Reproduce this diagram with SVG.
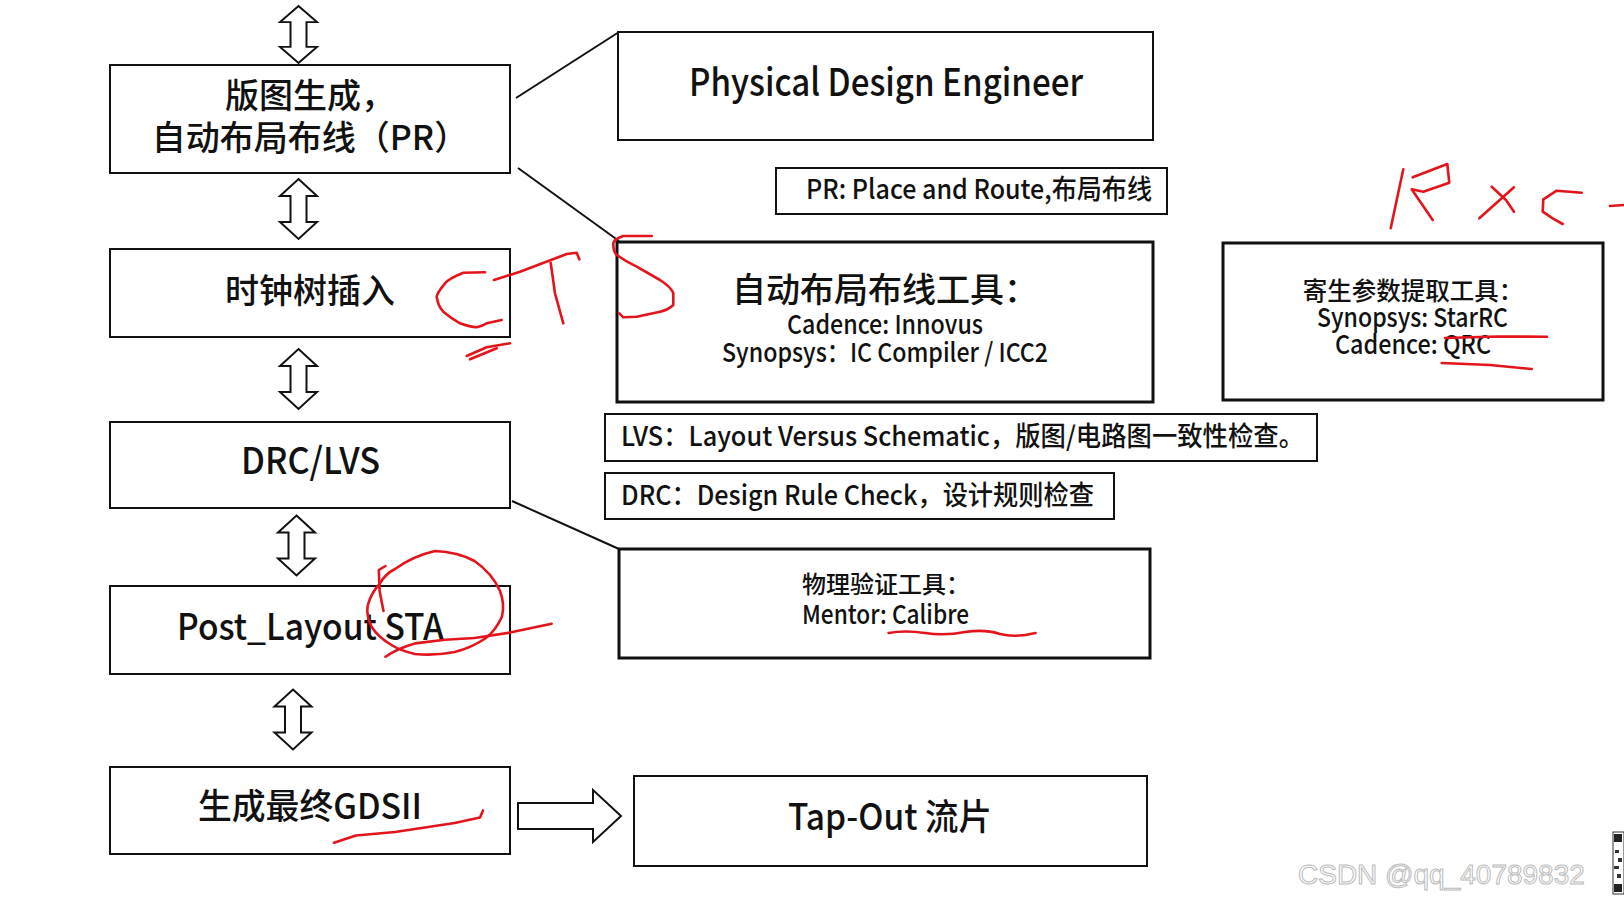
<svg xmlns="http://www.w3.org/2000/svg" xmlns:xlink="http://www.w3.org/1999/xlink" width="1624" height="903" viewBox="0 0 1624 903">
<defs>
<style>
.box{fill:#fff;stroke:#111;stroke-width:2}
.thick{stroke-width:3}
.t{font-family:"Noto Sans CJK SC","Noto Sans",sans-serif;fill:#111;font-weight:500}
.m{text-anchor:middle}
.conn{stroke:#111;stroke-width:2;fill:none}
.blk{fill:#fff;stroke:#111;stroke-width:2;stroke-linejoin:miter}
.red{fill:none;stroke:#e3141c;stroke-width:2.6;stroke-linecap:round;stroke-linejoin:round}
.wm{font-family:"Liberation Sans",Arial,sans-serif;font-size:28px;fill:#fff;stroke:#bbb;stroke-width:1}
</style>
<path id="dbl" d="M0,-30 L18.5,-13 L8,-13 L8,13 L18.5,13 L0,30 L-18.5,13 L-8,13 L-8,-13 L-18.5,-13 Z"/>
</defs>
<rect x="0" y="0" width="1624" height="903" fill="#fff"/>

<g id="connectors">
<line class="conn" x1="516" y1="98" x2="619" y2="32"/>
<line class="conn" x1="518" y1="168" x2="619" y2="241"/>
<line class="conn" x1="512" y1="501" x2="619" y2="549"/>
<use href="#dbl" class="blk" transform="translate(298.5,34.5) scale(1,0.95)"/>
<use href="#dbl" class="blk" transform="translate(298.5,209)"/>
<use href="#dbl" class="blk" transform="translate(298.5,379)"/>
<use href="#dbl" class="blk" transform="translate(296.5,545.5)"/>
<use href="#dbl" class="blk" transform="translate(293,719.5)"/>
<path class="blk" d="M518,803 L593,803 L593,790 L621,816 L593,842 L593,829 L518,829 Z"/>
</g>

<g id="n-pr">
<rect class="box" x="110" y="65" width="400" height="108"/>
<text class="t m" x="310" y="108" font-size="34">版图生成，</text>
<text class="t m" x="310" y="150" font-size="34">自动布局布线（PR）</text>
</g>
<g id="n-cts">
<rect class="box" x="110" y="249" width="400" height="88"/>
<text class="t m" x="310" y="303" font-size="34">时钟树插入</text>
</g>
<g id="n-drclvs">
<rect class="box" x="110" y="422" width="400" height="86"/>
<text class="t" x="241" y="474" font-size="37" textLength="139" lengthAdjust="spacingAndGlyphs">DRC/LVS</text>
</g>
<g id="n-sta">
<rect class="box" x="110" y="586" width="400" height="88"/>
<text class="t" x="177" y="640" font-size="36" textLength="267" lengthAdjust="spacingAndGlyphs">Post_Layout STA</text>
</g>
<g id="n-gds">
<rect class="box" x="110" y="767" width="400" height="87"/>
<text class="t" x="198" y="819" font-size="35" textLength="224" lengthAdjust="spacingAndGlyphs">生成最终GDSII</text>
</g>

<g id="n-pde">
<rect class="box" x="618" y="32" width="535" height="108"/>
<text class="t" x="689" y="96" font-size="38" textLength="394" lengthAdjust="spacingAndGlyphs">Physical Design Engineer</text>
</g>
<g id="n-prnote">
<rect class="box" x="776" y="168" width="391" height="46"/>
<text class="t" x="806" y="199" font-size="27" textLength="346" lengthAdjust="spacingAndGlyphs">PR: Place and Route,布局布线</text>
</g>
<g id="n-prtool">
<rect class="box thick" x="617" y="242" width="536" height="160"/>
<text class="t m" x="885" y="302" font-size="34">自动布局布线工具：</text>
<text class="t" x="787" y="334" font-size="26" textLength="196" lengthAdjust="spacingAndGlyphs">Cadence: Innovus</text>
<text class="t" x="722" y="362" font-size="26" textLength="326" lengthAdjust="spacingAndGlyphs">Synopsys：IC Compiler / ICC2</text>
</g>
<g id="n-rc">
<rect class="box thick" x="1223" y="243" width="380" height="157"/>
<text class="t m" x="1413" y="300" font-size="24.5" font-weight="700">寄生参数提取工具：</text>
<text class="t" x="1317" y="327" font-size="26" textLength="191" lengthAdjust="spacingAndGlyphs">Synopsys: StarRC</text>
<text class="t" x="1335" y="354" font-size="26" textLength="156" lengthAdjust="spacingAndGlyphs">Cadence: QRC</text>
</g>
<g id="n-lvs">
<rect class="box" x="605" y="414" width="712" height="47"/>
<text class="t" x="621" y="446" font-size="27" textLength="683" lengthAdjust="spacingAndGlyphs">LVS：Layout Versus Schematic，版图/电路图一致性检查。</text>
</g>
<g id="n-drcnote">
<rect class="box" x="605" y="473" width="509" height="46"/>
<text class="t" x="621" y="505" font-size="27" textLength="473" lengthAdjust="spacingAndGlyphs">DRC：Design Rule Check，设计规则检查</text>
</g>
<g id="n-pv">
<rect class="box thick" x="619" y="549" width="531" height="109"/>
<text class="t" x="802" y="593" font-size="24" font-weight="700">物理验证工具：</text>
<text class="t" x="802" y="624" font-size="26" textLength="167" lengthAdjust="spacingAndGlyphs">Mentor: Calibre</text>
</g>
<g id="n-tapeout">
<rect class="box" x="634" y="776" width="513" height="90"/>
<text class="t" x="788" y="830" font-size="36" textLength="204" lengthAdjust="spacingAndGlyphs">Tap-Out 流片</text>
</g>

<g id="annotations">
<path class="red" d="M485,272.3 L463.3,272.7 Q448,279 445,283.3 Q437,293 436.7,296.7 Q438,306 443.3,311.7 Q452,319 460,323.3 Q470,327 476.7,327.3 Q483,326 486.7,323.3 L501.7,320"/>
<path class="red" d="M494,280 L520,271.7 L566.7,254 L576.7,252.7 L579.3,259.3"/>
<path class="red" d="M550.7,262.7 L555,293.3 L563.3,323.3"/>
<path class="red" d="M651.7,236 L623.3,236 Q614,239 613.3,243.3 Q613,251 616.7,255 Q625,261 636.7,266.7 L660,280 Q671,287 673.3,293.3 L673.3,305 Q668,310 660,311.7 L636.7,316.7 L623.3,317.3 L619.3,313.3"/>
<path class="red" stroke-width="3.5" d="M466.7,356 L486.7,347.3 L510,343.3 M470,359.3 L496.7,348.3"/>
<path class="red" d="M385.5,566 L378.8,570 L379.6,591 L383.5,611"/>
<path class="red" d="M379.6,584 Q385,574 395,569 Q413,556 435,551 Q458,552 474.5,561 Q492,573 500,591 Q505,604 502,616.5 Q496,630 486,638 Q471,648 454.7,652 Q434,656 415,654 Q401,651 391.5,645 Q378,637 371.7,627 Q366,616 367.7,605.7 Q371,593 379.6,584"/>
<path class="red" d="M385.5,656.7 Q398,648 415,643.4 Q445,639 474.5,638 L510,632.6 L551.6,623.7"/>
<path class="red" d="M334,842.7 L356,835.5 L395,832 L454.7,823 L480,817.6 L483,810.4"/>
<path class="red" d="M888.6,633 Q905,630 925,633 Q945,636 965,632 Q985,629 1000,634 Q1015,638 1035.5,633"/>
<path class="red" d="M1445,338 L1497,336.5 L1547,336.7"/>
<path class="red" d="M1441.7,363 L1490,365 L1531.7,369"/>
<path class="red" d="M1403.3,169.3 L1390.7,228.3"/>
<path class="red" d="M1412.7,177.3 L1447.3,164 L1449.3,182.7 L1423.3,191.7 L1411.7,189.3 L1432.7,220"/>
<path class="red" d="M1479.3,218.3 L1514,187.3 M1491.7,186.7 L1506,200 L1514,211.7"/>
<path class="red" d="M1581.7,192.7 L1556.7,190.7 L1543.3,199.3 L1542.7,211.7 L1552.7,218.3 L1562.7,224"/>
<path class="red" d="M1610,206 L1624,205"/>
</g>

<g id="watermark">
<text class="wm" x="1298" y="884">CSDN @qq_40789832</text>
<rect x="1613" y="832" width="11" height="62" fill="#fff" stroke="#333" stroke-width="1"/>
<rect x="1614" y="834" width="8" height="8" fill="#222"/>
<rect x="1614" y="884" width="8" height="8" fill="#222"/>
<rect x="1615" y="850" width="4" height="3" fill="#333"/>
<rect x="1618" y="858" width="4" height="4" fill="#333"/>
<rect x="1614" y="866" width="5" height="3" fill="#333"/>
<rect x="1617" y="874" width="4" height="4" fill="#333"/>
</g>
</svg>
